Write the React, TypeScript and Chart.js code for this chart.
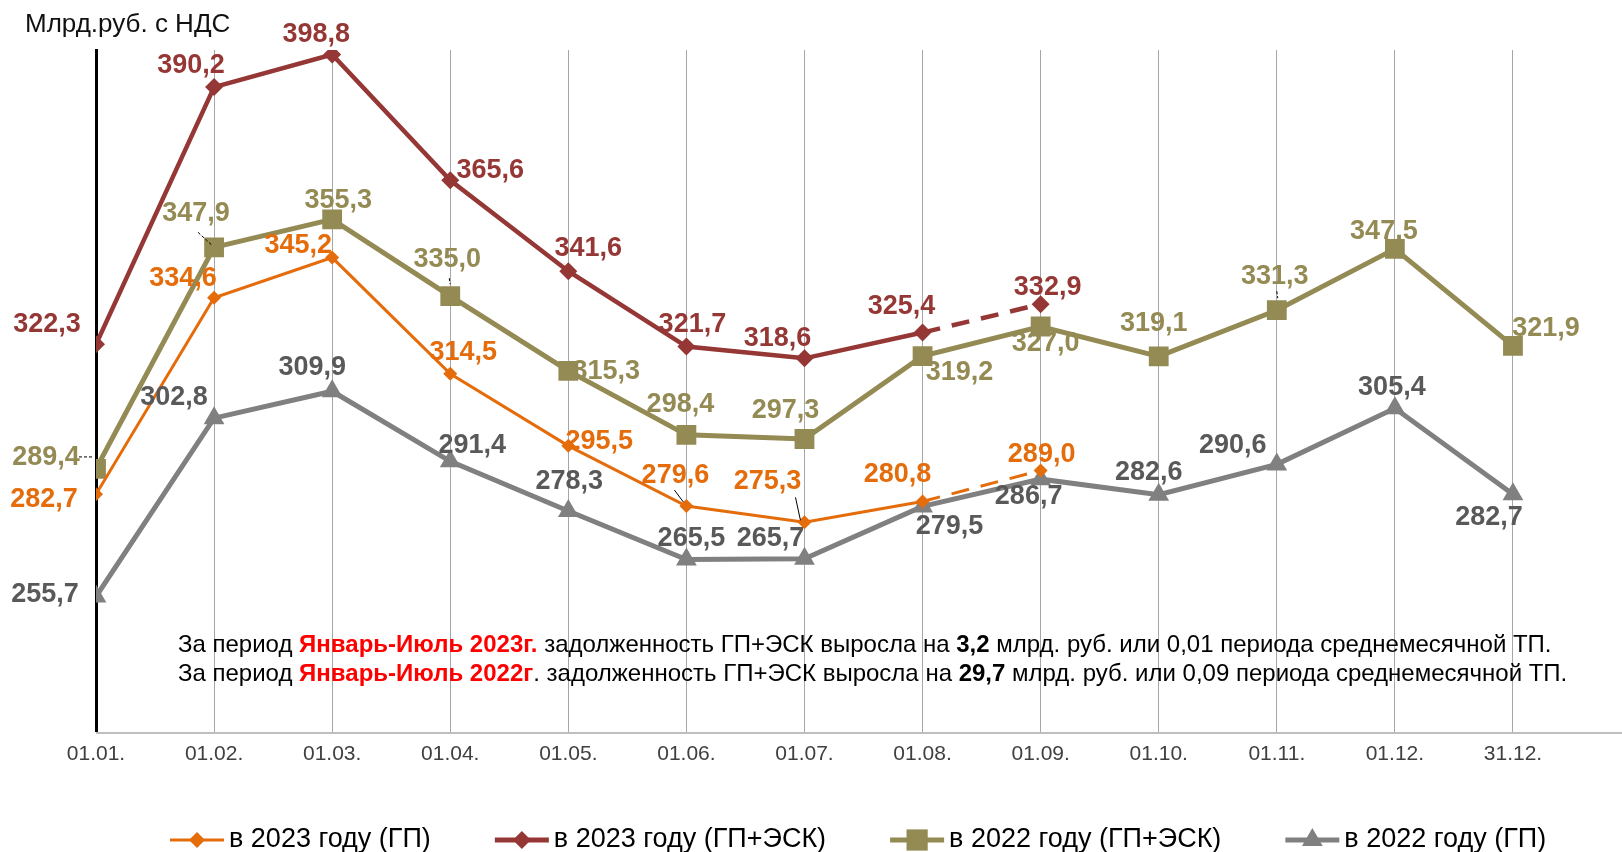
import React, { useEffect, useRef } from "react";
import { Chart, registerables } from "chart.js";

Chart.register(...registerables);

// ---------- data ----------
const xLabels = ["01.01.", "01.02.", "01.03.", "01.04.", "01.05.", "01.06.", "01.07.", "01.08.", "01.09.", "01.10.", "01.11.", "01.12.", "31.12."];
const gp2023 = [282.7, 334.6, 345.2, 314.5, 295.5, 279.6, 275.3, 280.8, 289.0];
const gpEsk2023 = [322.3, 390.2, 398.8, 365.6, 341.6, 321.7, 318.6, 325.4, 332.9];
const gpEsk2022 = [289.4, 347.9, 355.3, 335.0, 315.3, 298.4, 297.3, 319.2, 327.0, 319.1, 331.3, 347.5, 321.9];
const gp2022 = [255.7, 302.8, 309.9, 291.4, 278.3, 265.5, 265.7, 279.5, 286.7, 282.6, 290.6, 305.4, 282.7];
const seriesNames = ["в 2023 году (ГП)", "в 2023 году (ГП+ЭСК)", "в 2022 году (ГП+ЭСК)", "в 2022 году (ГП)"];
const forecastStart = 7; // segment after this index is dashed (2023 series)
const yMin = 220;
const yMax = 400;
const unitLabel = "Млрд.руб. с НДС";
const noteLine1 = [
  { t: "За период ", b: false, c: "#000000" },
  { t: "Январь-Июль 2023г.", b: true, c: "#ff0000" },
  { t: " задолженность ГП+ЭСК выросла на ", b: false, c: "#000000" },
  { t: "3,2", b: true, c: "#000000" },
  { t: " млрд. руб. или 0,01 периода среднемесячной ТП.", b: false, c: "#000000" },
];
const noteLine2 = [
  { t: "За период ", b: false, c: "#000000" },
  { t: "Январь-Июль 2022г", b: true, c: "#ff0000" },
  { t: ". задолженность ГП+ЭСК выросла на ", b: false, c: "#000000" },
  { t: "29,7", b: true, c: "#000000" },
  { t: " млрд. руб. или 0,09 периода среднемесячной ТП.", b: false, c: "#000000" },
];

// ---------- styles ----------
const W = 1622;
const H = 852;
const CAT_STEP = 118.08; // px between months
const ORANGE = "#E46C0A";
const RED = "#953735";
const OLIVE = "#948A54";
const GREY = "#808080";
const labelColors = [ORANGE, RED, OLIVE, "#595959"];
const FONT = "'Liberation Sans', Arial, sans-serif";

// label offsets (px) relative to each point
const labelOffsets: number[][][] = [
  [[-52, 5], [-31, -19], [-34, -12], [13, -21], [31, -4], [-11, -31], [-37, -41], [-25, -27], [1, -16]],
  [[-49, -20], [-23, -22], [-16, -20], [40, -10], [20, -23], [6, -22], [-27, -20], [-21, -26], [7, -17]],
  [[-50, -11], [-18, -34], [6, -19], [-3, -37], [38, 1], [-6, -30], [-19, -28], [37, 16], [5, 17], [-5, -33], [-2, -34], [-11, -17], [33, -17]],
  [[-51, -2], [-40, -21], [-20, -24], [22, -16], [1, -29], [5, -21], [-34, -20], [27, 20], [-12, 17], [-10, -22], [-44, -19], [-3, -21], [-24, 23]],
];
const leaders: number[][] = [
  [0, 5, -12, -16, -3, -4],
  [0, 6, -9, -25, -4, -2],
  [2, 1, -16, -15, -2, -2],
  [2, 0, -17, -12, -3, -12],
  [2, 3, -1, -18, 0, -12],
  [2, 10, 0, -19, 1, -12],
];

const fmt = (v: number) => v.toFixed(1).replace(".", ",");

// bottom axis line drawn across the full width, under the series
const axisLinePlugin = {
  id: "axisLine",
  beforeDatasetsDraw(chart: any) {
    const ctx = chart.ctx as CanvasRenderingContext2D;
    const a = chart.chartArea;
    const y = Math.round(a.bottom) + 1;
    ctx.save();
    ctx.strokeStyle = "#bfbfbf";
    ctx.lineWidth = 2;
    ctx.beginPath();
    ctx.moveTo(a.left, y);
    ctx.lineTo(chart.width, y);
    ctx.stroke();
    ctx.restore();
  },
};

const pointLabelsPlugin = {
  id: "pointLabels",
  afterDatasetsDraw(chart: any) {
    const ctx = chart.ctx;
    ctx.save();
    ctx.strokeStyle = "#000";
    ctx.lineWidth = 1;
    leaders.forEach(([di, i, x1, y1, x2, y2]) => {
      const pt = chart.getDatasetMeta(di).data[i];
      if (!pt) return;
      ctx.setLineDash(di === 2 ? [3, 2] : []);
      ctx.beginPath();
      ctx.moveTo(pt.x + x1, pt.y + y1);
      ctx.lineTo(pt.x + x2, pt.y + y2);
      ctx.stroke();
    });
    ctx.setLineDash([]);
    ctx.font = `bold 27px ${FONT}`;
    ctx.textAlign = "center";
    ctx.textBaseline = "middle";
    chart.data.datasets.forEach((ds: any, di: number) => {
      const meta = chart.getDatasetMeta(di);
      meta.data.forEach((pt: any, i: number) => {
        const [dx, dy] = labelOffsets[di][i] || [0, -20];
        ctx.fillStyle = labelColors[di];
        ctx.fillText(fmt(ds.data[i].y), pt.x + dx, pt.y + dy);
      });
    });
    ctx.restore();
  },
};

function drawMarker(ctx: CanvasRenderingContext2D, style: string, x: number, y: number, r: number, color: string) {
  ctx.fillStyle = color;
  ctx.beginPath();
  if (style === "rectRot") {
    ctx.moveTo(x, y - r);
    ctx.lineTo(x + r, y);
    ctx.lineTo(x, y + r);
    ctx.lineTo(x - r, y);
  } else if (style === "rect") {
    const s = r * Math.SQRT1_2;
    ctx.rect(x - s, y - s, 2 * s, 2 * s);
  } else {
    ctx.moveTo(x, y - r);
    ctx.lineTo(x + r * 0.866, y + r / 2);
    ctx.lineTo(x - r * 0.866, y + r / 2);
  }
  ctx.closePath();
  ctx.fill();
}

const textPlugin = {
  id: "texts",
  afterDraw(chart: any) {
    const ctx = chart.ctx as CanvasRenderingContext2D;
    ctx.save();
    // unit label
    ctx.font = `26px ${FONT}`;
    ctx.fillStyle = "#111";
    ctx.textAlign = "left";
    ctx.textBaseline = "middle";
    ctx.fillText(unitLabel, 25, 25);

    // notes
    const drawRich = (parts: any[], x0: number, y: number) => {
      let x = x0;
      parts.forEach((p) => {
        ctx.font = `${p.b ? "bold " : ""}24px ${FONT}`;
        ctx.fillStyle = p.c;
        ctx.fillText(p.t, x, y);
        x += ctx.measureText(p.t).width;
      });
    };
    drawRich(noteLine1, 178, 645);
    drawRich(noteLine2, 178, 674);

    // legend
    let x = 170;
    const y = 840;
    const lineW = [3, 5, 5, 5];
    const markR = [8, 9, 15, 12];
    chart.data.datasets.forEach((ds: any, i: number) => {
      ctx.strokeStyle = ds.borderColor;
      ctx.lineWidth = lineW[i];
      ctx.beginPath();
      ctx.moveTo(x, y);
      ctx.lineTo(x + 54, y);
      ctx.stroke();
      drawMarker(ctx, ds.pointStyle, x + 27, y, markR[i], ds.borderColor);
      ctx.font = `27px ${FONT}`;
      ctx.fillStyle = "#000";
      ctx.fillText(ds.label, x + 59, y);
      x += 59 + ctx.measureText(ds.label).width + 64;
    });
    ctx.restore();
  },
};

const dashSeg = {
  borderDash: (c: any) => (c.p0DataIndex >= forecastStart ? [18, 12] : undefined),
};

function makeDataset(label: string, values: number[], color: string, width: number, style: string, radius: number, dashed: boolean) {
  return {
    label,
    data: values.map((y, x) => ({ x, y })),
    borderColor: color,
    backgroundColor: color,
    borderWidth: width,
    pointStyle: style,
    pointRadius: radius,
    pointBackgroundColor: color,
    pointBorderColor: color,
    pointBorderWidth: 0,
    tension: 0,
    ...(dashed ? { segment: dashSeg } : {}),
  };
}

export default function App() {
  const ref = useRef<HTMLCanvasElement | null>(null);
  useEffect(() => {
    if (!ref.current) return;
    const chart = new Chart(ref.current, {
      type: "line",
      data: {
        datasets: [
          makeDataset(seriesNames[0], gp2023, ORANGE, 3, "rectRot", 7, true),
          makeDataset(seriesNames[1], gpEsk2023, RED, 4.5, "rectRot", 9, true),
          makeDataset(seriesNames[2], gpEsk2022, OLIVE, 5, "rect", 14, false),
          makeDataset(seriesNames[3], gp2022, GREY, 5, "triangle", 12, false),
        ] as any,
      },
      options: {
        animation: false,
        responsive: false,
        layout: { padding: { left: 96, top: 50, right: 0, bottom: 75 } },
        plugins: { legend: { display: false }, tooltip: { enabled: false } },
        scales: {
          x: {
            type: "linear",
            min: 0,
            max: (W - 96) / CAT_STEP,
            bounds: "data",
            ticks: {
              stepSize: 1,
              includeBounds: false,
              autoSkip: false,
              maxRotation: 0,
              padding: 10,
              color: "#404040",
              font: { family: FONT, size: 21 },
              callback: (v: any) => (Number.isInteger(v) ? xLabels[v] ?? "" : ""),
            },
            grid: {
              drawTicks: false,
              lineWidth: 1,
              color: (c: any) => (c.tick && c.tick.value === 0 ? "rgba(0,0,0,0)" : "#a6a6a6"),
            },
            border: { display: false },
          },
          y: {
            min: yMin,
            max: yMax,
            ticks: { display: false },
            grid: { display: false, drawTicks: false },
            border: { color: "#000000", width: 3 },
          },
        },
      } as any,
      plugins: [axisLinePlugin, pointLabelsPlugin, textPlugin],
    });
    // keep the month spacing fixed whatever width the plot area ends up with
    const area = chart.chartArea;
    const wantMax = (area.right - area.left) / CAT_STEP;
    if (Math.abs(wantMax - (chart.options.scales as any).x.max) > 0.001) {
      (chart.options.scales as any).x.max = wantMax;
      chart.update();
    }
    return () => chart.destroy();
  }, []);
  return (
    <div style={{ position: "absolute", left: 0, top: 0, width: W, height: H, overflow: "hidden", background: "#fff" }}>
      <canvas ref={ref} width={W} height={H} style={{ display: "block", width: W, height: H }} />
    </div>
  );
}
